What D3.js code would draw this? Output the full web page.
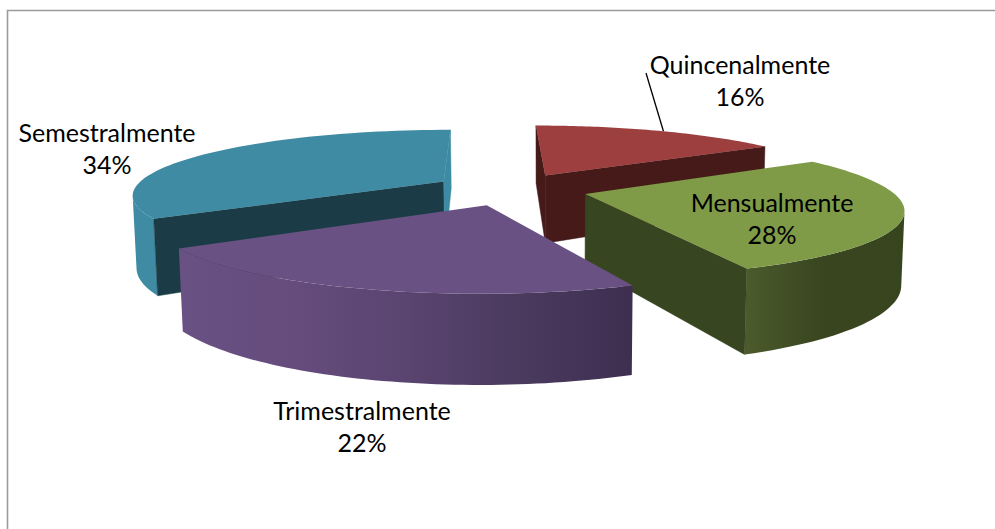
<!DOCTYPE html>
<html>
<head>
<meta charset="utf-8">
<script src="https://cdnjs.cloudflare.com/ajax/libs/d3/7.8.5/d3.min.js"></script>
<style>
html,body{margin:0;background:#fff}
svg{display:block}
text{font-family:Lato,sans-serif;font-size:25px;fill:#000;text-anchor:middle}
</style>
</head>
<body>
<svg id="chart" width="995" height="529"></svg>
<script>
// data
const categories = ["Quincenalmente", "Mensualmente", "Trimestralmente", "Semestralmente"];
const values = [16, 28, 22, 34];

// slice colours: top face, cut wall, shading of the round wall (left to right)
const topColors = ["#9c3f3e", "#7f9b48", "#695283", "#3f8ba3"];
const startWall = ["#451a18", "#374520", "#4a3a5e", "#1b3c47"];
const endWall = ["#451a18", "#374520", "#4a3a5e", "#3d8aa3"];
const roundWall = [
  ["#451a18", "#451a18"],
  ["#4b5b2b", "#414f26", "#38451f", "#38451f", "#37451f"],
  ["#6a5184", "#654c7d", "#5a4470", "#4a3a5e", "#3e2e50"],
  ["#3f8ba3", "#3f8ba3"]
];

// label positions (centre x, first baseline)
const labelX = [740, 772, 362, 107];
const labelY = [74, 212, 420, 142];

// camera fitted to the picture: [x row], [y row], [w row]
const camX = [322.6481, -40.9294, 4.9668, 510.5344];
const camY = [-3.6312, 27.6788, 72.8337, 189.0469];
const camW = [0.03928533, -0.18857773, 0.00891597];
const explode = 0.251;
const rotation = -1.4053;
const drawOrder = [3, 0, 1, 2];

const svg = d3.select("#chart");
const defs = svg.append("defs");
const slices = d3.pie().sort(null).value(d => d)(values);
const line = d3.line();

// ground point of slice i at pie angle a, radius r, depth z -> page
function project(i, a, r, z) {
  const s = slices[i];
  const b = (s.startAngle + s.endAngle) / 2 + rotation;
  const X = explode * Math.cos(b) + r * Math.cos(a + rotation);
  const Y = explode * Math.sin(b) + r * Math.sin(a + rotation);
  const w = camW[0] * X + camW[1] * Y + camW[2] * z + 1;
  return [
    (camX[0] * X + camX[1] * Y + camX[2] * z + camX[3]) / w,
    (camY[0] * X + camY[1] * Y + camY[2] * z + camY[3]) / w
  ];
}

// signed area, negative = counter clockwise on screen
const area = pts => -d3.polygonArea(pts);

/**
 * border
 */
svg.append("path")
  .attr("d", "M995,10.5H7.5V529")
  .attr("fill", "none")
  .attr("stroke", "#9b9b9b")
  .attr("stroke-width", 1.6);

/**
 * slices
 */
drawOrder.forEach(i => {
  const s = slices[i];
  const g = svg.append("g").attr("class", "slice");
  const angles = d3.range(0, 61).map(k => s.startAngle + (s.endAngle - s.startAngle) * k / 60);
  const top = angles.map(a => project(i, a, 1, 0));
  const bot = angles.map(a => project(i, a, 1, 1));

  // shading of the round wall runs across the page, from the arc's left to its right end
  const xs = d3.extent(top, d => d[0]);
  const grad = defs.append("linearGradient")
    .attr("id", "wall" + i)
    .attr("gradientUnits", "userSpaceOnUse")
    .attr("x1", xs[0]).attr("x2", xs[1]).attr("y1", 0).attr("y2", 0);
  roundWall[i].forEach((c, k, all) => {
    grad.append("stop").attr("offset", k / (all.length - 1)).attr("stop-color", c);
  });

  // round wall, only the steps facing the viewer
  const front = d3.range(0, 60).filter(k => area([top[k], top[k + 1], bot[k + 1], bot[k]]) < 0);
  if (front.length) {
    const from = d3.min(front), to = d3.max(front) + 1;
    const outline = [...top.slice(from, to + 1), ...bot.slice(from, to + 1).reverse()];
    g.append("path").attr("d", line(outline) + "Z").attr("fill", "url(#wall" + i + ")");
  }

  // cut walls, only the ones facing the viewer
  const a0 = project(i, 0, 0, 0), a1 = project(i, 0, 0, 1);
  const startQuad = [a0, top[0], bot[0], a1];
  const endQuad = [a0, top[60], bot[60], a1];
  if (area(startQuad) < 0) g.append("path").attr("d", line(startQuad) + "Z").attr("fill", startWall[i]).attr("stroke", startWall[i]).attr("stroke-width", 0.5);
  if (area(endQuad) > 0) g.append("path").attr("d", line(endQuad) + "Z").attr("fill", endWall[i]).attr("stroke", endWall[i]).attr("stroke-width", 0.5);

  g.append("path").attr("d", line([a0, ...top]) + "Z").attr("fill", topColors[i]);
});

/**
 * leader line
 */
svg.append("path")
  .attr("d", line([[646, 73], project(0, slices[0].startAngle + 0.52 * (slices[0].endAngle - slices[0].startAngle), 1, 0)]))
  .attr("fill", "none")
  .attr("stroke", "#000")
  .attr("stroke-width", 1.3);

/**
 * labels
 */
categories.forEach((name, i) => {
  const label = svg.append("text").attr("class", "label");
  label.append("tspan").attr("x", labelX[i]).attr("y", labelY[i]).text(name);
  label.append("tspan").attr("x", labelX[i]).attr("y", labelY[i] + 32).text(values[i] + "%");
});
</script>
</body>
</html>
